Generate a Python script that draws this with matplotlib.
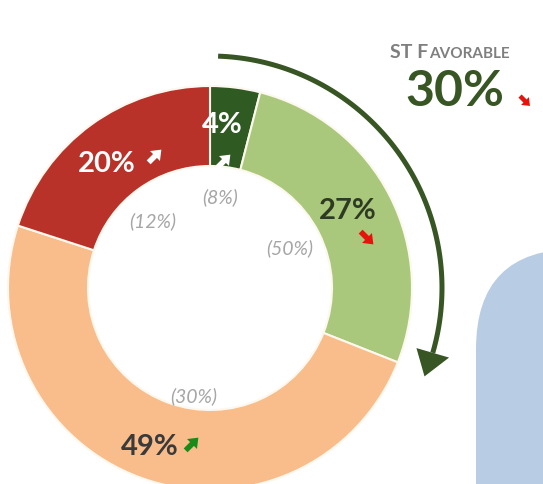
import numpy as np
import matplotlib.pyplot as plt
from matplotlib.patches import FancyBboxPatch, FancyArrow, Polygon

plt.rcParams['font.family'] = ['Lato', 'DejaVu Sans']

# data
segments = ["Very favorable", "Favorable", "Unfavorable", "Very unfavorable"]
shares = [4, 27, 49, 20]
prior_shares = ["(8%)", "(50%)", "(30%)", "(12%)"]
trend = ["up", "down", "up", "up"]
seg_colors = ['#2f5a22', '#a9c87b', '#f8bd8b', '#b8322a']
favorable_total = 30
favorable_trend = "down"

W, H = 543, 485


def Y(y):
    # pixel row -> data y
    return H - y


def trend_arrow(ax, x, y, direction, color, size=18, width=5.5, hw=14, hl=9):
    s = size / 2 ** 0.5
    sign = 1 if direction == "up" else -1
    ax.add_patch(FancyArrow(x - s / 2, Y(y) - sign * s / 2, s, sign * s,
                            width=width, head_width=hw, head_length=hl,
                            length_includes_head=True, color=color, lw=0))


fig = plt.figure(figsize=(W / 100, H / 100), dpi=100)
ax = fig.add_axes([0, 0, 1, 1])

cx, cy = 210, Y(289)
r_out, ring = 202, 80

ax.pie(shares, colors=seg_colors, startangle=90, counterclock=False,
       radius=r_out, center=(cx, cy),
       wedgeprops=dict(width=ring, edgecolor='#fdf8ee', linewidth=1.5))

ax.set_xlim(0, W)
ax.set_ylim(0, H)
ax.set_aspect('equal')
ax.axis('off')

# blue panel at the right
ax.add_patch(FancyBboxPatch((476, -200), 400, Y(250) + 200,
                            boxstyle="round,pad=0,rounding_size=100",
                            fc='#b8cce4', ec='none'))

# favorable arc arrow
r_arc = 232
fav_frac = sum(shares[:2]) / 100
tip_deg = 360 * fav_frac + 0.8
head_len, head_w = 25, 34
start_deg = 2
end_deg = tip_deg - np.degrees(head_len / r_arc)
th = np.radians(90 - np.linspace(start_deg, end_deg, 100))
ax.plot(cx + r_arc * np.cos(th), cy + r_arc * np.sin(th),
        color='#375623', lw=3.6, solid_capstyle='butt')
t_tip = np.radians(90 - tip_deg)
t_base = np.radians(90 - end_deg)
tip = np.array([cx + r_arc * np.cos(t_tip), cy + r_arc * np.sin(t_tip)])
base = np.array([cx + r_arc * np.cos(t_base), cy + r_arc * np.sin(t_base)])
radial = np.array([np.cos(t_base), np.sin(t_base)])
ax.add_patch(Polygon([base + radial * head_w / 2, base - radial * head_w / 2, tip],
                     closed=True, fc='#375623', ec='none'))

# value labels
big = dict(fontsize=21, fontweight='bold', ha='center', va='center')
ax.text(222, Y(125), f"{shares[0]}%", color='white', **big)
ax.text(348, Y(211), f"{shares[1]}%", color='#2e3b22', **big)
ax.text(150, Y(447), f"{shares[2]}%", color='#3a3a3a', **big)
ax.text(107, Y(164), f"{shares[3]}%", color='white', **big)

trend_arrow(ax, 224, 162, trend[0], 'white')
trend_arrow(ax, 367, 239, trend[1], '#e8120c')
trend_arrow(ax, 192, 445, trend[2], '#1a8a1a')
trend_arrow(ax, 155, 157, trend[3], 'white')

small = dict(fontsize=14, fontstyle='italic', color='#a6a6a6',
             ha='center', va='center')
ax.text(220, Y(197), prior_shares[0], **small)
ax.text(290, Y(248), prior_shares[1], **small)
ax.text(194, Y(396), prior_shares[2], **small)
ax.text(153, Y(221), prior_shares[3], **small)

# ST favorable header (small caps)
t1 = ax.text(390, Y(58), "ST F", fontsize=14, fontweight='bold', color='#7f7f7f',
             ha='left', va='baseline')
fig.canvas.draw()
x_end = ax.transData.inverted().transform(t1.get_window_extent())[1, 0]
ax.text(x_end + 0.5, Y(58), "AVORABLE", fontsize=11, fontweight='bold', color='#7f7f7f',
        ha='left', va='baseline')
ax.text(405, Y(106), f"{favorable_total}%", fontsize=36, fontweight='bold',
        color='#375623', ha='left', va='baseline')
trend_arrow(ax, 525, 102, favorable_trend, '#e8120c', size=14, width=4.5, hw=11, hl=7)

fig.savefig("out.png", dpi=100)
